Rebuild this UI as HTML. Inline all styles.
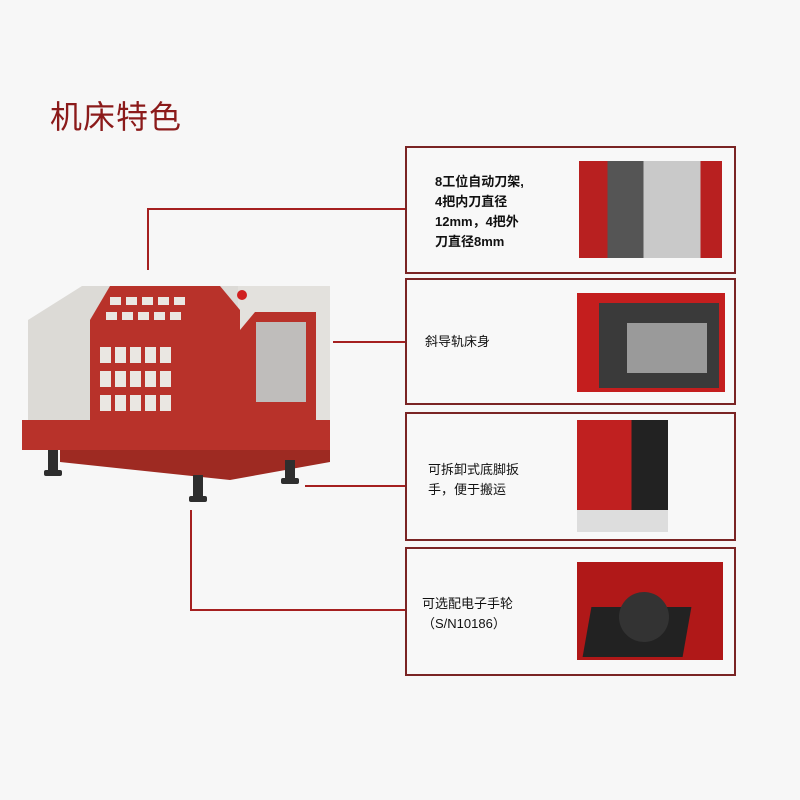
<!DOCTYPE html>
<html><head><meta charset="utf-8"><style>
body{margin:0;background:#f7f7f7;}
#w{position:relative;width:800px;height:800px;background:#f7f7f7;font-family:"Liberation Sans","Noto Sans CJK SC",sans-serif;overflow:hidden}
.t{position:absolute;left:50px;top:92px;font-size:32px;color:#8b1a1a;letter-spacing:1px}
.box{position:absolute;left:405px;width:331px;border:2px solid #7a2424;box-sizing:border-box;background:#f8f8f8}
.lbl{position:absolute;font-size:13px;color:#111;line-height:20px;font-weight:bold}
.img{position:absolute}
</style></head><body><div id="w">
<div class="t">机床特色</div>
<svg width="800" height="800" style="position:absolute;left:0;top:0">
<g stroke="#a52020" stroke-width="2" fill="none">
<polyline points="148,270 148,209 406,209"/>
<line x1="333" y1="342" x2="406" y2="342"/>
<line x1="305" y1="486" x2="406" y2="486"/>
<polyline points="191,510 191,610 406,610"/>
</g>
<!-- machine -->
<polygon points="28,320 82,286 330,286 330,420 28,420" fill="#dcdad6"/>
<polygon points="238,286 330,286 330,420 238,420" fill="#e3e1dd"/>
<polygon points="90,320 110,286 220,286 240,310 240,436 90,436" fill="#b8322a"/>
<g fill="#eae7e2">
<rect x="100" y="347" width="11" height="16"/><rect x="115" y="347" width="11" height="16"/><rect x="130" y="347" width="11" height="16"/><rect x="145" y="347" width="11" height="16"/><rect x="160" y="347" width="11" height="16"/>
<rect x="100" y="371" width="11" height="16"/><rect x="115" y="371" width="11" height="16"/><rect x="130" y="371" width="11" height="16"/><rect x="145" y="371" width="11" height="16"/><rect x="160" y="371" width="11" height="16"/>
<rect x="100" y="395" width="11" height="16"/><rect x="115" y="395" width="11" height="16"/><rect x="130" y="395" width="11" height="16"/><rect x="145" y="395" width="11" height="16"/><rect x="160" y="395" width="11" height="16"/>
<rect x="110" y="297" width="11" height="8"/><rect x="126" y="297" width="11" height="8"/><rect x="142" y="297" width="11" height="8"/><rect x="158" y="297" width="11" height="8"/><rect x="174" y="297" width="11" height="8"/>
<rect x="106" y="312" width="11" height="8"/><rect x="122" y="312" width="11" height="8"/><rect x="138" y="312" width="11" height="8"/><rect x="154" y="312" width="11" height="8"/><rect x="170" y="312" width="11" height="8"/>
</g>
<polygon points="240,330 255,312 316,312 316,420 240,420" fill="#b8322a"/>
<rect x="256" y="322" width="50" height="80" fill="#bfbdbb"/>
<rect x="22" y="420" width="308" height="30" fill="#b8322a"/>
<polygon points="60,450 330,450 330,462 230,480 60,462" fill="#9e2a22"/>
<g fill="#2e2e2e">
<rect x="48" y="450" width="10" height="22"/><rect x="44" y="470" width="18" height="6" rx="2"/>
<rect x="193" y="475" width="10" height="22"/><rect x="189" y="496" width="18" height="6" rx="2"/>
<rect x="285" y="460" width="10" height="20"/><rect x="281" y="478" width="18" height="6" rx="2"/>
</g>
<circle cx="242" cy="295" r="5" fill="#d02020"/>
</svg>
<div class="box" style="top:146px;height:128px"></div>
<div class="box" style="top:278px;height:127px"></div>
<div class="box" style="top:412px;height:129px"></div>
<div class="box" style="top:547px;height:129px"></div>
<div class="lbl" style="left:435px;top:172px">8工位自动刀架,<br>4把内刀直径<br>12mm，4把外<br>刀直径8mm</div>
<div class="lbl" style="left:425px;top:332px;font-weight:normal">斜导轨床身</div>
<div class="lbl" style="left:428px;top:460px;font-weight:normal">可拆卸式底脚扳<br>手，便于搬运</div>
<div class="lbl" style="left:422px;top:594px;font-weight:normal">可选配电子手轮<br>（S/N10186）</div>
<div class="img" style="left:579px;top:161px;width:143px;height:97px;background:linear-gradient(90deg,#b82020 0 20%,#555 20% 45%,#c9c9c9 45% 85%,#b82020 85%)"></div>
<div class="img" style="left:577px;top:293px;width:148px;height:99px;background:#c41e1e"><div style="position:absolute;left:22px;top:10px;width:120px;height:85px;background:#3a3a3a"></div><div style="position:absolute;left:50px;top:30px;width:80px;height:50px;background:#9a9a9a"></div></div>
<div class="img" style="left:577px;top:420px;width:91px;height:112px;background:linear-gradient(90deg,#c02020 0 60%,#222 60%)"><div style="position:absolute;left:0;top:90px;width:91px;height:22px;background:#ddd"></div></div>
<div class="img" style="left:577px;top:562px;width:146px;height:98px;background:#b01818"><div style="position:absolute;left:10px;top:45px;width:100px;height:50px;background:#222;transform:skewX(-10deg)"></div><div style="position:absolute;left:42px;top:30px;width:50px;height:50px;border-radius:50%;background:#333"></div></div>
</div></body></html>
